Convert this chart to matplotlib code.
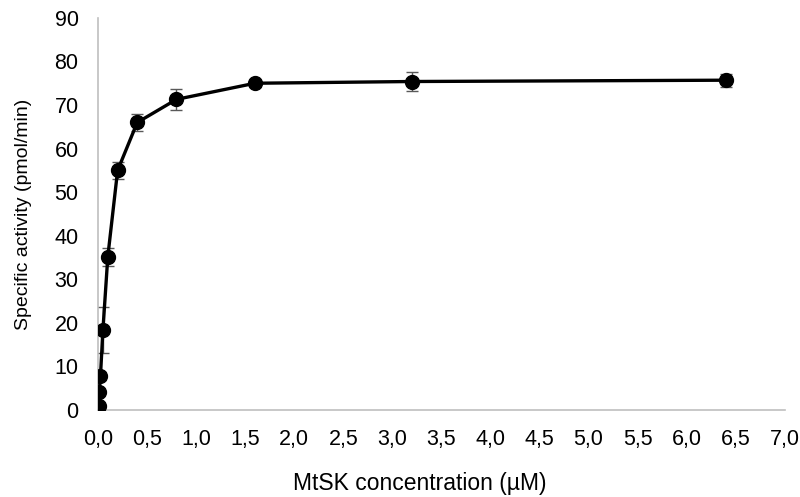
import matplotlib
matplotlib.use("Agg")
import matplotlib.pyplot as plt

conc = [0.00625, 0.0125, 0.025, 0.05, 0.1, 0.2, 0.4, 0.8, 1.6, 3.2, 6.4]
activity = [0.9, 4.1, 7.8, 18.3, 35.2, 55.0, 66.0, 71.3, 75.0, 75.4, 75.7]
err = [0.3, 0.5, 1.0, 5.3, 2.1, 2.0, 2.0, 2.4, 0.8, 2.2, 1.5]
xticks = [0.0, 0.5, 1.0, 1.5, 2.0, 2.5, 3.0, 3.5, 4.0, 4.5, 5.0, 5.5, 6.0, 6.5, 7.0]
xtick_labels = [f"{v:.1f}".replace(".", ",") for v in xticks]
yticks = list(range(0, 91, 10))

plt.rcParams['font.family'] = ['Liberation Sans', 'DejaVu Sans']

fig = plt.figure(figsize=(8, 4.97), dpi=100)
ax = fig.add_axes([0.1225, 0.175, 0.8585, 0.789])

ax.errorbar(conc, activity, yerr=err, fmt='none', ecolor='#595959',
            elinewidth=1.0, capsize=4, capthick=1.0, zorder=2)
ax.plot(conc, activity, color='black', lw=2.4, marker='o', markersize=10,
        zorder=3)

ax.set_xlim(0, 7.0)
ax.set_ylim(0, 90)
ax.set_xticks(xticks)
ax.set_xticklabels(xtick_labels)
ax.set_yticks(yticks)
ax.tick_params(axis='both', length=0, labelsize=15.5)
ax.tick_params(axis='x', pad=14)
ax.tick_params(axis='y', pad=14)

for s in ['top', 'right']:
    ax.spines[s].set_visible(False)
for s in ['left', 'bottom']:
    ax.spines[s].set_color('#bfbfbf')
    ax.spines[s].set_linewidth(1.2)

ax.set_xlabel('MtSK concentration (µM)', fontsize=16.5)
ax.xaxis.set_label_coords(0.469, -0.158)
ax.set_ylabel('Specific activity (pmol/min)', fontsize=14)
ax.yaxis.set_label_coords(-0.096, 0.5)

fig.savefig('out.png', dpi=100)
